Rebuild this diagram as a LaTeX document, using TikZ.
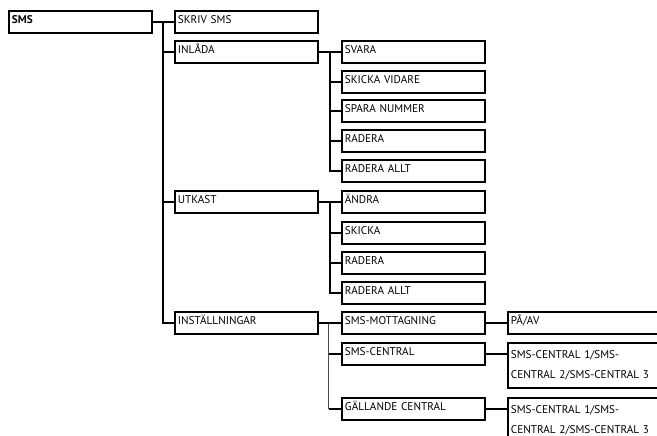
\documentclass[tikz,border=0pt]{standalone}
\usepackage{fontspec}
\setmainfont{PT Sans}
\usetikzlibrary{calc}
\begin{document}
\begin{tikzpicture}[x=1pt,y=-1pt,
  box/.style={draw, line width=1.8pt, anchor=north west, inner xsep=3pt, inner ysep=3pt,
    text width=#1, align=left, minimum height=22pt, text height=10pt, text depth=6pt,
    font=\fontsize{11.2}{20}\selectfont},
  box/.default=137pt,
  tallbox/.style={box=194pt, minimum height=45pt, text height=13pt, text depth=26pt},
  conn/.style={line width=1.8pt},
  thinconn/.style={line width=0.7pt, black!70}]
\useasboundingbox (0,0) rectangle (657,436);
\clip (0,0) rectangle (657,436);
% level 0
\node[box, font=\fontsize{11.2}{20}\selectfont\bfseries] (sms) at (8,10) {SMS};
% level 1
\node[box] (skriv) at (174,10) {SKRIV SMS};
\node[box] (inlada) at (174,40) {INLÅDA};
\node[box] (utkast) at (174,190) {UTKAST};
\node[box] (inst) at (174,311) {INSTÄLLNINGAR};
% level 2 inlada
\node[box] (svara) at (341,40) {SVARA};
\node[box] (vidare) at (341,70) {SKICKA VIDARE};
\node[box] (spara) at (341,99) {SPARA NUMMER};
\node[box] (raderaA) at (341,129) {RADERA};
\node[box] (alltA) at (341,159) {RADERA ALLT};
% level 2 utkast
\node[box] (andra) at (341,190) {ÄNDRA};
\node[box] (skicka) at (341,221) {SKICKA};
\node[box] (raderaB) at (341,251) {RADERA};
\node[box] (alltB) at (341,281) {RADERA ALLT};
% level 2 installningar
\node[box] (mott) at (341,311) {SMS-MOTTAGNING};
\node[box] (central) at (341,342) {SMS-CENTRAL};
\node[box] (galla) at (341,397) {GÄLLANDE CENTRAL};
% level 3
\node[box=194pt] (paav) at (507,311) {PÅ/AV};
\node[tallbox] (scA) at (507,342) {SMS-CENTRAL 1/SMS-\\CENTRAL 2/SMS-CENTRAL 3};
\node[tallbox] (scB) at (507,397) {SMS-CENTRAL 1/SMS-\\CENTRAL 2/SMS-CENTRAL 3};
% connectors
\coordinate (t0) at ($(sms.east)+(10,0)$);
\foreach \c in {skriv,inlada,utkast,inst}
  \draw[conn] (sms.east) -| (t0) |- (\c.west);
\coordinate (t1) at ($(inlada.east)+(11,0)$);
\foreach \c in {svara,vidare,spara,raderaA,alltA}
  \draw[conn] (inlada.east) -| (t1) |- (\c.west);
\coordinate (t2) at ($(utkast.east)+(11,0)$);
\foreach \c in {andra,skicka,raderaB,alltB}
  \draw[conn] (utkast.east) -| (t2) |- (\c.west);
\coordinate (t3) at ($(inst.east)+(10,0)$);
\draw[thinconn] (t3) -- (t3 |- galla.west);
\draw[conn] (inst.east) -- (mott.west);
\draw[conn] (central.west) -- (central.west -| t3);
\draw[conn] (galla.west) -- (galla.west -| t3);
\draw[conn] (mott.east) -- (paav.west);
\draw[conn] (central.east) -- (central.east -| scA.west);
\draw[conn] (galla.east) -- (galla.east -| scB.west);
\end{tikzpicture}
\end{document}
